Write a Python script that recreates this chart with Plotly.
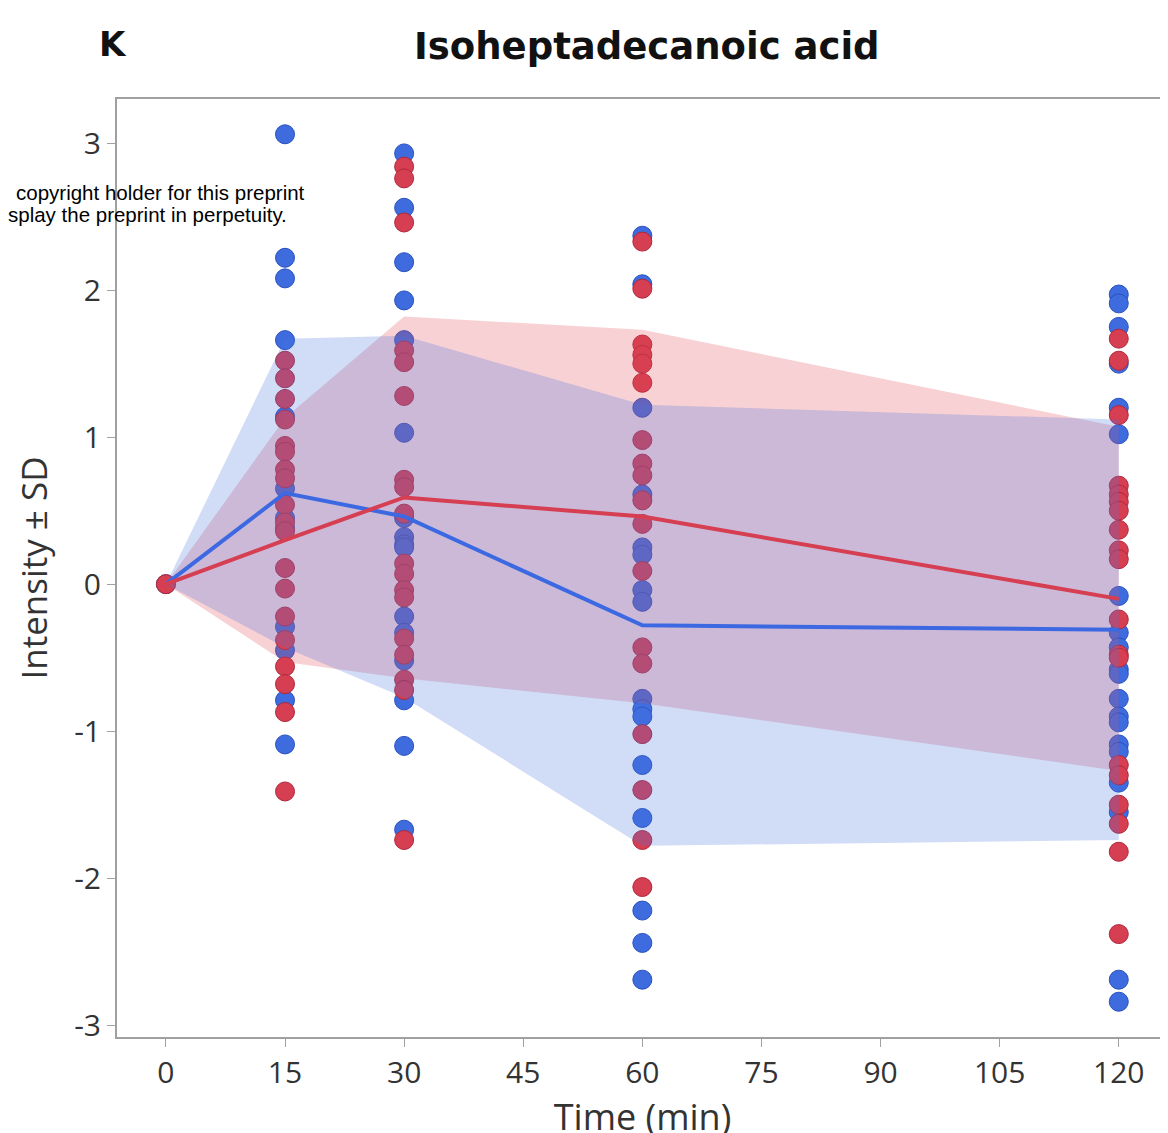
import plotly.graph_objects as go

# ---------------- data ----------------
times = [0, 15, 30, 60, 120]

blue_pts = {
    0: [0.0],
    15: [3.06, 2.22, 2.08, 1.66, 1.14, 0.65, 0.45, 0.38, -0.29, -0.45, -0.79, -1.09],
    30: [2.93, 2.56, 2.19, 1.93, 1.66, 1.03, 0.45, 0.32, 0.27, 0.25, -0.22, -0.33, -0.52, -0.79, -1.10, -1.67],
    60: [2.37, 2.04, 1.20, 0.61, 0.25, 0.20, -0.04, -0.12, -0.78, -0.85, -0.90, -1.23, -1.59, -2.22, -2.44, -2.69],
    120: [1.97, 1.91, 1.75, 1.50, 1.20, 1.02, -0.08, -0.33, -0.43, -0.58, -0.61, -0.78, -0.90, -0.94,
          -1.09, -1.14, -1.35, -1.55, -2.69, -2.84],
}
red_pts = {
    0: [0.0],
    15: [1.52, 1.40, 1.26, 1.12, 0.94, 0.90, 0.78, 0.72, 0.54, 0.42, 0.36, 0.11, -0.03, -0.22, -0.38,
         -0.56, -0.68, -0.87, -1.41],
    30: [2.84, 2.76, 2.46, 1.59, 1.51, 1.28, 0.71, 0.66, 0.48, 0.14, 0.07, -0.04, -0.09, -0.37, -0.48,
         -0.65, -0.72, -1.74],
    60: [2.33, 2.01, 1.63, 1.56, 1.50, 1.37, 0.98, 0.82, 0.74, 0.57, 0.41, 0.09, -0.43, -0.54, -1.02,
         -1.40, -1.74, -2.06],
    120: [1.67, 1.52, 1.15, 0.67, 0.61, 0.56, 0.50, 0.37, 0.23, 0.17, -0.24, -0.48, -0.50, -1.23, -1.30,
          -1.50, -1.63, -1.82, -2.38],
}

blue_mean = [0.0, 0.62, 0.46, -0.28, -0.31]
blue_sd = [0.0, 1.05, 1.23, 1.50, 1.43]
red_mean = [0.0, 0.30, 0.59, 0.46, -0.10]
red_sd = [0.0, 0.83, 1.23, 1.27, 1.17]

x_ticks = [0, 15, 30, 45, 60, 75, 90, 105, 120]
y_ticks = [-3, -2, -1, 0, 1, 2, 3]

# ---------------- styles ----------------
BLUE = "rgb(62,108,222)"
BLUE_EDGE = "rgb(40,80,190)"
RED = "rgb(214,62,82)"
RED_EDGE = "rgb(175,40,60)"
BLUE_FILL = "rgba(70,115,225,0.25)"
RED_FILL = "rgba(225,70,85,0.25)"


def flatten(d):
    xs, ys = [], []
    for t in times:
        for v in d[t]:
            xs.append(t)
            ys.append(v)
    return xs, ys


fig = go.Figure()

bx, by = flatten(blue_pts)
rx, ry = flatten(red_pts)

fig.add_trace(go.Scatter(x=bx, y=by, mode="markers",
                         marker=dict(size=19, color=BLUE, line=dict(color=BLUE_EDGE, width=1)),
                         showlegend=False))
fig.add_trace(go.Scatter(x=rx, y=ry, mode="markers",
                         marker=dict(size=19, color=RED, line=dict(color=RED_EDGE, width=1)),
                         showlegend=False))


def band(mean, sd, color):
    up = [m + s for m, s in zip(mean, sd)]
    lo = [m - s for m, s in zip(mean, sd)]
    return go.Scatter(x=times + times[::-1], y=up + lo[::-1], fill="toself",
                      fillcolor=color, line=dict(width=0), mode="lines",
                      hoverinfo="skip", showlegend=False)


fig.add_trace(band(red_mean, red_sd, RED_FILL))
fig.add_trace(band(blue_mean, blue_sd, BLUE_FILL))

fig.add_trace(go.Scatter(x=times, y=blue_mean, mode="lines",
                         line=dict(color="rgb(60,105,225)", width=4), showlegend=False))
fig.add_trace(go.Scatter(x=times, y=red_mean, mode="lines",
                         line=dict(color="rgb(214,62,82)", width=4), showlegend=False))

axis_font = dict(family="Open Sans", size=30, color="#333333")

# page offset of the figure inside the browser page (body margin)
OX, OY = 8, 7
W, H = 1168, 1133
L, T = 117 - OX, 98 - OY
R = 6
B = H - (1036 - OY)

fig.update_layout(
    width=W, height=H,
    margin=dict(l=L, r=R, t=T, b=B),
    paper_bgcolor="white", plot_bgcolor="white",
    showlegend=False,
    xaxis=dict(range=[-6.16, 126.2], tickvals=x_ticks, ticktext=[str(v) for v in x_ticks],
               showgrid=False, zeroline=False, showline=True, linecolor="#a0a0a0", linewidth=2,
               mirror=True, ticks="outside", ticklen=8, tickcolor="#a0a0a0",
               tickfont=axis_font,
               title=dict(text="Time (min)", font=dict(family="Open Sans", size=36, color="#333333"),
                          standoff=6)),
    yaxis=dict(range=[-3.08, 3.30], tickvals=y_ticks, ticktext=[str(v) for v in y_ticks],
               showgrid=False, zeroline=False, showline=True, linecolor="#a0a0a0", linewidth=2,
               mirror=True, ticks="outside", ticklen=8, tickcolor="#a0a0a0",
               tickfont=axis_font,
               title=dict(text="Intensity ± SD", font=dict(family="Open Sans", size=35, color="#333333"),
                          standoff=16)),
)

pw, ph = W - L - R, H - T - B


def ann(text, px, py, size, family, xanchor="center", color="#111111"):
    # px, py: page pixel position of the anchor in the reference picture
    fx, fy = px - OX, py - OY
    return dict(text=text, x=(fx - L) / pw, y=(H - B - fy) / ph, xref="paper", yref="paper",
                xanchor=xanchor, yanchor="middle", showarrow=False,
                font=dict(family=family, size=size, color=color))


fig.update_layout(annotations=[
    ann("<b>Isoheptadecanoic acid</b>", 648, 45, 37, "DejaVu Sans"),
    ann("<b>K</b>", 113, 43, 34, "DejaVu Sans"),
    ann("copyright holder for this preprint", 307, 191, 20.5, "Liberation Sans", "right", "#000000"),
    ann("splay the preprint in perpetuity.", 289, 213, 20.5, "Liberation Sans", "right", "#000000"),
])

fig.write_html("out.html")
